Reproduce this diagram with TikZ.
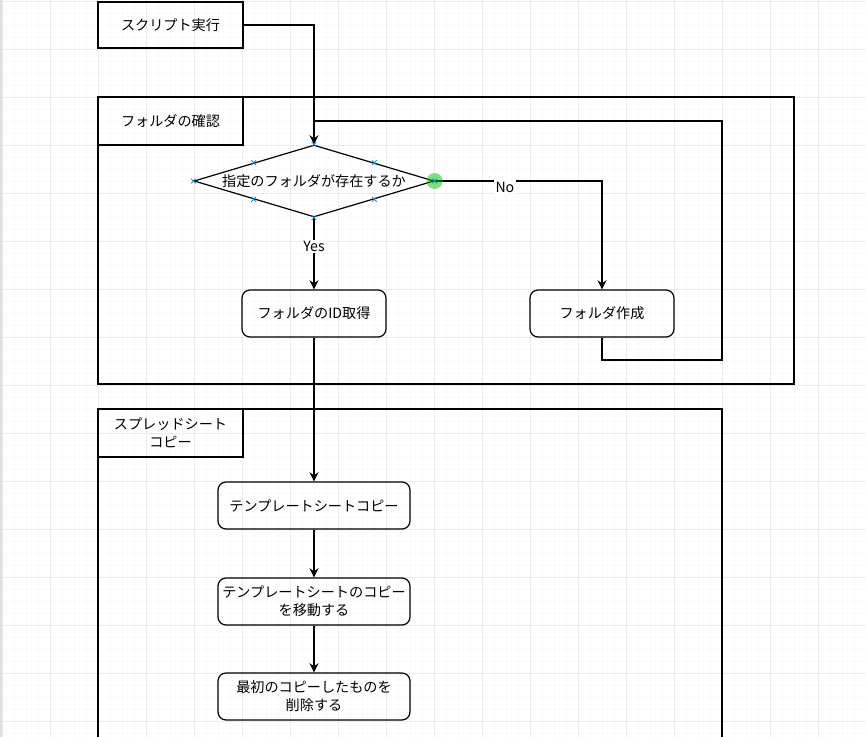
\documentclass[tikz,border=0pt]{standalone}
\usepackage{fontspec}
\setmainfont{Noto Sans CJK JP}
\usetikzlibrary{positioning,arrows.meta,shapes.geometric}

\begin{document}
\begin{tikzpicture}[x=0.75pt,y=-0.75pt,
			font=\fontsize{10.6}{13.5}\selectfont,
			box/.style={draw, rectangle, line width=0.9pt, minimum width=108.75pt, minimum height=34.5pt, align=center},
			lane/.style={draw, rectangle, line width=0.9pt, minimum width=108.75pt, minimum height=36pt, inner sep=1pt, align=center},
			step box/.style={draw, rectangle, rounded corners=6pt, line width=0.9pt, minimum height=35.25pt, inner sep=1pt, align=center},
			decision/.style={draw, diamond, aspect=3.33, line width=0.9pt, minimum width=180pt, minimum height=54pt, inner sep=0pt},
			arrow/.style={-{Stealth[length=7pt,width=7pt,inset=2.5pt]}, line width=0.9pt},
			line/.style={line width=0.9pt},
			handle/.style={draw=cyan!70!blue, line width=0.6pt},
			edgelabel/.style={fill=white, inner sep=1pt}]
			
			\useasboundingbox (0,0) rectangle (866,737);
			
			% grid
			\begin{scope}
				\clip (0,0) rectangle (866,737);
				\foreach \gx in {2,14,...,866} \draw[gray!5, line width=0.6pt] (\gx,0) -- (\gx,737);
				\foreach \gy in {1.3,13.3,...,737} \draw[gray!5, line width=0.6pt] (0,\gy) -- (866,\gy);
				\foreach \gx in {2,50,...,866} \draw[gray!15, line width=0.6pt] (\gx,0) -- (\gx,737);
				\foreach \gy in {1.3,49.3,...,737} \draw[gray!15, line width=0.6pt] (0,\gy) -- (866,\gy);
				\draw[gray!25, line width=1.5pt] (0.5,0) -- (0.5,737);
				% lanes
				\draw[line] (98,97) rectangle (794,384);
				\draw[line] (98,745) -- (98,409) -- (722,409) -- (722,745);
			\end{scope}
			
			\node[lane] (lanefolder) at (170.5,121) {フォルダの確認};
			\node[lane] (lanecopy) at (170.5,433) {スプレッドシート\\コピー};
			
			\node[box] (start) at (170.5,25) {スクリプト実行};
			\node[decision] (exists) at (314,181) {指定のフォルダが存在するか};
			\node[step box, minimum width=108pt] (getid) at (314,313.5) {フォルダのID取得};
			\node[step box, minimum width=108pt] (mkdir) at (602,313.5) {フォルダ作成};
			\node[step box, minimum width=144pt] (tcopy) at (314,505.5) {テンプレートシートコピー};
			\node[step box, minimum width=144pt] (tmove) at (314,601.5) {テンプレートシートのコピー\\を移動する};
			\node[step box, minimum width=144pt] (tdel) at (314,696.5) {最初のコピーしたものを\\削除する};
			
			\coordinate (loopin) at (314,121);
			
			\draw[arrow] (start.east) -| (exists.north);
			\draw[line] (mkdir.south) |- (722,360) |- (loopin);
			\draw[arrow] (exists.east) -| node[edgelabel, pos=0.21, yshift=-4.5pt] {No} (mkdir.north);
			\draw[arrow] (exists.south) -- node[edgelabel, pos=0.4] {Yes} (getid.north);
			\draw[arrow] (getid.south) -- (tcopy.north);
			\draw[arrow] (tcopy.south) -- (tmove.north);
			\draw[arrow] (tmove.south) -- (tdel.north);
			
			% selection handles
			\fill[green!75!black, opacity=0.5] (exists.east) circle (6pt);
			\foreach \hp in {exists.north, exists.south, exists.east, exists.west,
				exists.north east, exists.north west, exists.south east, exists.south west}
			\draw[handle] ([shift={(-1.8pt,-1.8pt)}]\hp) -- ([shift={(1.8pt,1.8pt)}]\hp)
				([shift={(-1.8pt,1.8pt)}]\hp) -- ([shift={(1.8pt,-1.8pt)}]\hp);
			
		\end{tikzpicture}
\end{document}
